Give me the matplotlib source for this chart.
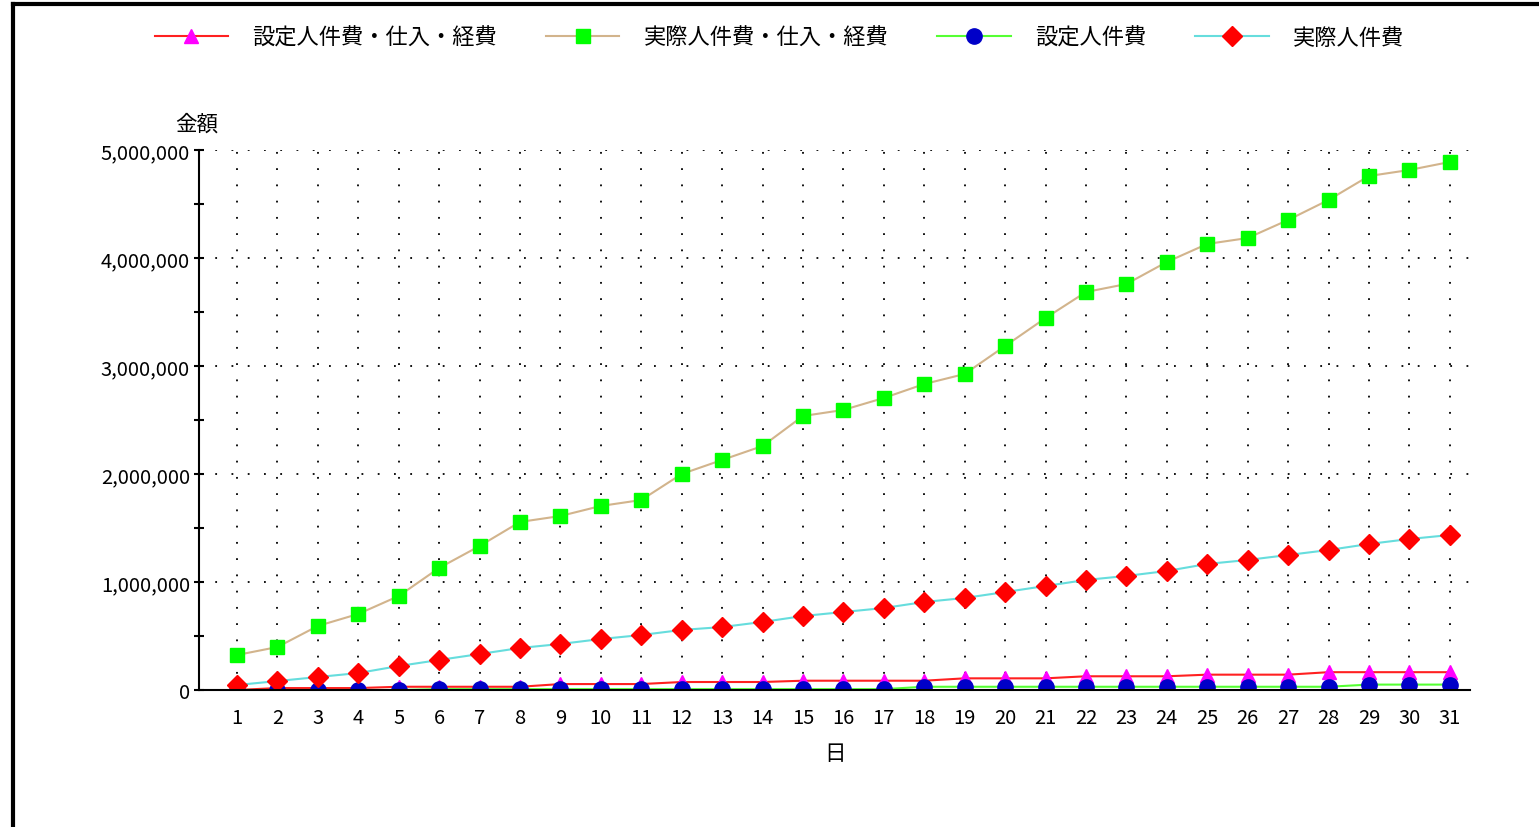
import numpy as np
import matplotlib.pyplot as plt
from matplotlib.lines import Line2D
from matplotlib.ticker import FuncFormatter, MultipleLocator

plt.rcParams['font.family'] = ['Noto Sans CJK JP', 'DejaVu Sans']

# days of the month
days = list(range(1, 32))

# 設定人件費・仕入・経費 (planned labour + purchases + expenses)
plan_total = [0, 18000, 18000, 18000, 30000, 30000, 30000, 30000, 55000, 55000,
              55000, 74000, 74000, 74000, 86000, 86000, 86000, 86000, 108000, 108000,
              108000, 127000, 127000, 127000, 142000, 142000, 142000, 165000, 165000, 165000,
              165000]

# 実際人件費・仕入・経費 (actual labour + purchases + expenses)
actual_total = [324000, 398000, 593000, 704000, 870000, 1130000, 1333000, 1556000, 1611000, 1704000,
                1759000, 2000000, 2130000, 2259000, 2537000, 2593000, 2704000, 2833000, 2926000, 3185000,
                3444000, 3685000, 3759000, 3963000, 4130000, 4185000, 4352000, 4537000, 4759000, 4815000,
                4889000]

# 設定人件費 (planned labour)
plan_labour = [0, 0, 0, 0, 0, 8000, 8000, 8000, 8000, 8000,
               8000, 8000, 8000, 8000, 8000, 8000, 8000, 30000, 30000, 30000,
               30000, 30000, 30000, 30000, 30000, 30000, 30000, 30000, 50000, 50000,
               50000]

# 実際人件費 (actual labour)
actual_labour = [46000, 83000, 120000, 157000, 222000, 278000, 333000, 389000, 426000, 472000,
                 509000, 556000, 583000, 630000, 685000, 722000, 759000, 815000, 852000, 907000,
                 963000, 1019000, 1056000, 1102000, 1167000, 1204000, 1250000, 1296000, 1352000, 1398000,
                 1435000]

labels = ['設定人件費・仕入・経費', '実際人件費・仕入・経費', '設定人件費', '実際人件費']

fig = plt.figure(figsize=(15.39, 8.28), dpi=100)
ax = fig.add_axes([199 / 1539, 1 - 691 / 828, (1470 - 199) / 1539, (691 - 151) / 828])

ax.plot(days, plan_total, color='#ff2020', lw=1.5, marker='^', ms=10.5,
        mfc='#ff00ff', mec='#ff00ff', label=labels[0])
ax.plot(days, actual_total, color='#d2b48c', lw=1.5, marker='s', ms=10.5,
        mfc='#00ff00', mec='#00ff00', label=labels[1])
ax.plot(days, plan_labour, color='#55ff33', lw=1.5, marker='o', ms=11,
        mfc='#0000c8', mec='#0000c8', label=labels[2])
ax.plot(days, actual_labour, color='#66dddd', lw=1.5, marker='D', ms=10.5,
        mfc='#ff0000', mec='#ff0000', label=labels[3])

ax.set_xlim(0.06, 31.5)
ax.set_ylim(0, 5000000)
ax.set_xticks(days)
ax.yaxis.set_major_locator(MultipleLocator(1000000))
ax.yaxis.set_minor_locator(MultipleLocator(500000))
ax.yaxis.set_major_formatter(FuncFormatter(lambda v, p: f'{int(v):,}'))

ax.grid(True, which='major', color='black', linestyle=(0, (1, 8)), lw=1.3)
ax.set_axisbelow(True)
for s in ['top', 'right']:
    ax.spines[s].set_visible(False)
ax.spines['left'].set_linewidth(1.5)
ax.spines['bottom'].set_linewidth(1.5)

ax.tick_params(axis='x', length=0, pad=12, labelsize=14.5)
ax.tick_params(axis='y', which='both', direction='inout', length=7, width=1.5, pad=3, labelsize=14.5)

ax.set_xlabel('日', fontsize=15.5, labelpad=10)
fig.text(197 / 1539, 1 - 125 / 828, '金額', fontsize=15.5, ha='center', va='center')

fig.legend(loc='center', bbox_to_anchor=(0.5065, 1 - 38 / 828), ncol=4, frameon=False,
           fontsize=16, handlelength=3.3, handletextpad=1.1, columnspacing=2.2)

# window frame lines on the left and top
fig.add_artist(Line2D([13 / 1539, 13 / 1539], [0, 1 - 5 / 828], color='black', lw=3,
                      transform=fig.transFigure))
fig.add_artist(Line2D([13 / 1539, 1], [1 - 5 / 828, 1 - 5 / 828], color='black', lw=3,
                      transform=fig.transFigure))

fig.savefig('out.png', dpi=100)
